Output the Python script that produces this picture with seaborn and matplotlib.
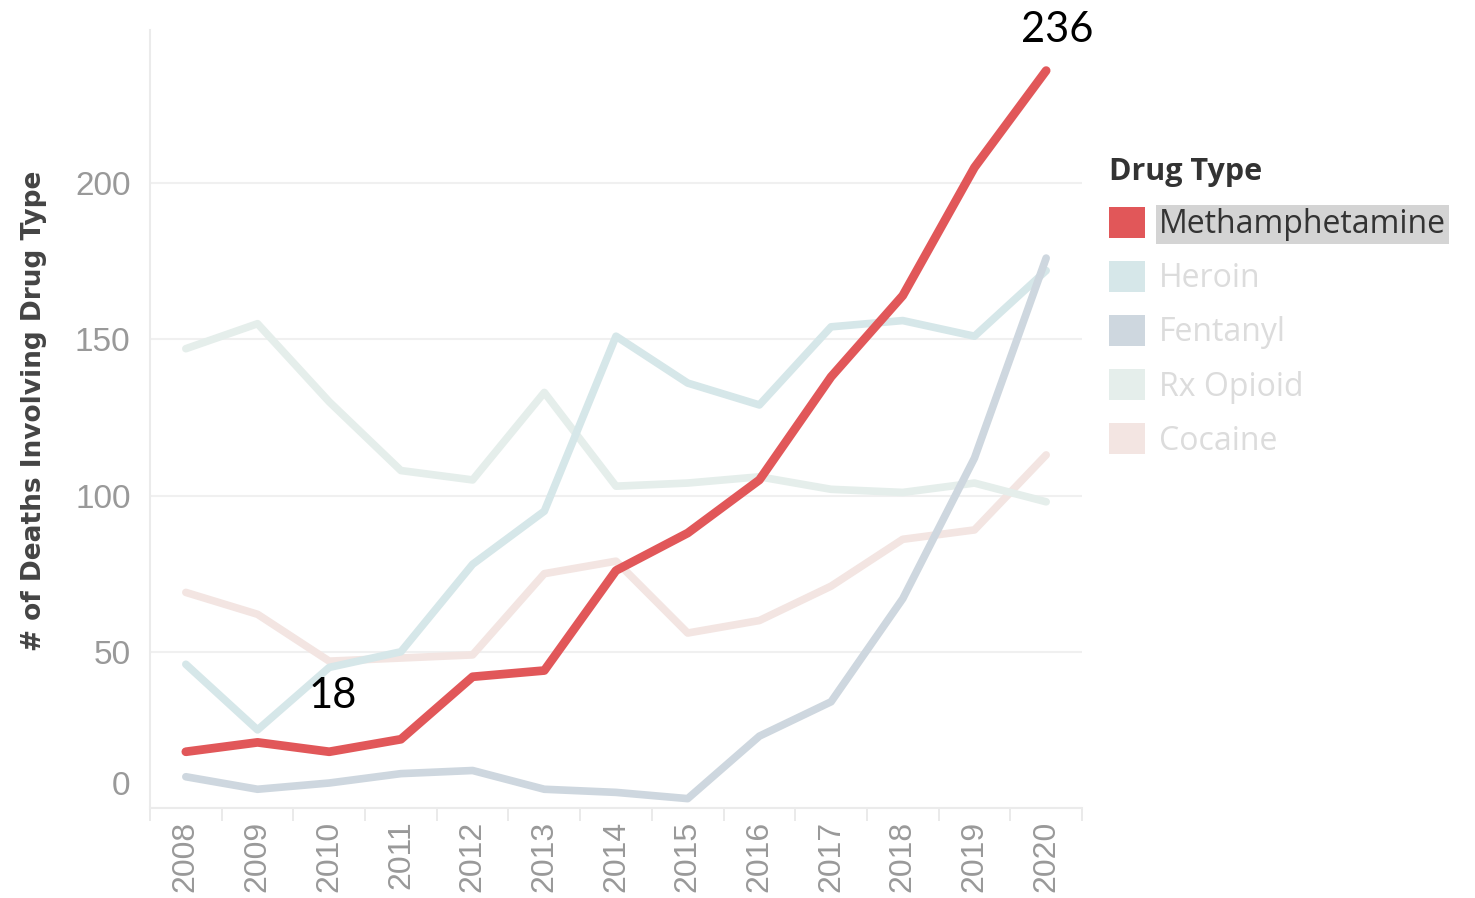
import matplotlib
matplotlib.use('Agg')
import matplotlib.pyplot as plt
from matplotlib.patches import Patch
from matplotlib.ticker import FixedLocator
from matplotlib.transforms import ScaledTranslation
import seaborn as sns
import pandas as pd
import numpy as np

# Values
years = list(range(2008, 2021))
meth = [18, 21, 18, 22, 42, 44, 76, 88, 105, 138, 164, 205, 236]
heroin = [46, 25, 45, 50, 78, 95, 151, 136, 129, 154, 156, 151, 172]
fentanyl = [10, 6, 8, 11, 12, 6, 5, 3, 23, 34, 67, 112, 176]
rx_opioid = [147, 155, 130, 108, 105, 133, 103, 104, 106, 102, 101, 104, 98]
cocaine = [69, 62, 47, 48, 49, 75, 79, 56, 60, 71, 86, 89, 113]

drug_types = ['Methamphetamine', 'Heroin', 'Fentanyl', 'Rx Opioid', 'Cocaine']
colors = {'Methamphetamine': '#e15759', 'Heroin': '#d6e7e9',
          'Fentanyl': '#ced7df', 'Rx Opioid': '#e5eeeb', 'Cocaine': '#f3e5e2'}

series = {'Methamphetamine': meth, 'Heroin': heroin, 'Fentanyl': fentanyl,
          'Rx Opioid': rx_opioid, 'Cocaine': cocaine}
rows = []
for name, vals in series.items():
    for y, v in zip(years, vals):
        rows.append({'Year': y, 'Deaths': v, 'Drug Type': name})
df = pd.DataFrame(rows)

sns.set_theme(style='white')
plt.rcParams['font.family'] = ['Liberation Sans', 'DejaVu Sans']

fig = plt.figure(figsize=(14.75, 8.98), dpi=100)
ax = fig.add_axes([150 / 1475, 90 / 898, 932 / 1475, 778 / 898])

# faded lines first, highlighted meth on top
draw_order = ['Cocaine', 'Rx Opioid', 'Heroin', 'Fentanyl', 'Methamphetamine']
for name in draw_order:
    sns.lineplot(data=df[df['Drug Type'] == name], x='Year', y='Deaths',
                 color=colors[name], linewidth=6.3 if name == 'Methamphetamine' else 5.5,
                 solid_capstyle='round', ax=ax, legend=False)

ax.set_xlim(2007.5, 2020.5)
ax.set_ylim(0, 249)

ax.yaxis.set_major_locator(FixedLocator([0, 50, 100, 150, 200]))
ax.set_xticks(years)
ax.set_xticklabels([str(y) for y in years], rotation=90)
ax.xaxis.set_minor_locator(FixedLocator(np.arange(2007.5, 2021, 1.0)))
ax.tick_params(axis='x', which='major', length=0, pad=9, labelsize=23, labelcolor='#999999')
ax.tick_params(axis='x', which='minor', length=9, width=1.2, color='#e6e6e6', bottom=True)
ax.tick_params(axis='y', length=0, pad=14, labelsize=24, labelcolor='#999999')
ax.set_yticklabels(['0', '50', '100', '150', '200'])
for lab in ax.get_yticklabels():
    if lab.get_text() == '0':
        lab.set_transform(lab.get_transform() + ScaledTranslation(0, 25 / 100, fig.dpi_scale_trans))

ax.grid(axis='y', color='#f0f0f0', linewidth=1.5)
ax.grid(axis='x', visible=False)
for s in ['top', 'right']:
    ax.spines[s].set_visible(False)
for s in ['left', 'bottom']:
    ax.spines[s].set_color('#ebebeb')
    ax.spines[s].set_linewidth(1.5)

ax.set_xlabel('')
ax.set_ylabel('# of Deaths Involving Drug Type', fontsize=19, fontweight='bold',
              color='#444444', family=['DejaVu Sans'])
ax.yaxis.set_label_coords(-0.11, 0.51)

# annotations
ax.annotate(str(meth[-1]), (2020, meth[-1]), xytext=(2020.15, 243), textcoords='data',
            fontsize=30, family=['Lato', 'DejaVu Sans'], ha='center', va='bottom',
            color='black', annotation_clip=False)
ax.annotate(str(meth[2]), (2010, meth[2]), xytext=(2010.05, 36), textcoords='data',
            fontsize=30, family=['Lato', 'DejaVu Sans'], ha='center', va='center',
            color='black')

# legend
handles = [Patch(facecolor=colors[n], edgecolor='none') for n in drug_types]
leg = fig.legend(handles, drug_types, loc='upper left', bbox_to_anchor=(1080 / 1475, 1 - 128 / 898),
                 frameon=False, title='Drug Type', alignment='left',
                 handlelength=1.12, handleheight=1.12, handletextpad=0.45, labelspacing=0.62,
                 prop={'family': ['Open Sans', 'DejaVu Sans'], 'size': 23})
leg.get_title().set_fontsize(22)
leg.get_title().set_fontweight('bold')
leg.get_title().set_color('#333333')
leg.get_title().set_family(['Open Sans', 'DejaVu Sans'])
for txt, n in zip(leg.get_texts(), drug_types):
    if n == 'Methamphetamine':
        txt.set_color('#333333')
        txt.set_bbox(dict(facecolor='#d4d4d4', edgecolor='none', pad=2))
    else:
        txt.set_color('#dcdcdc')

fig.savefig('out.png', dpi=100)
